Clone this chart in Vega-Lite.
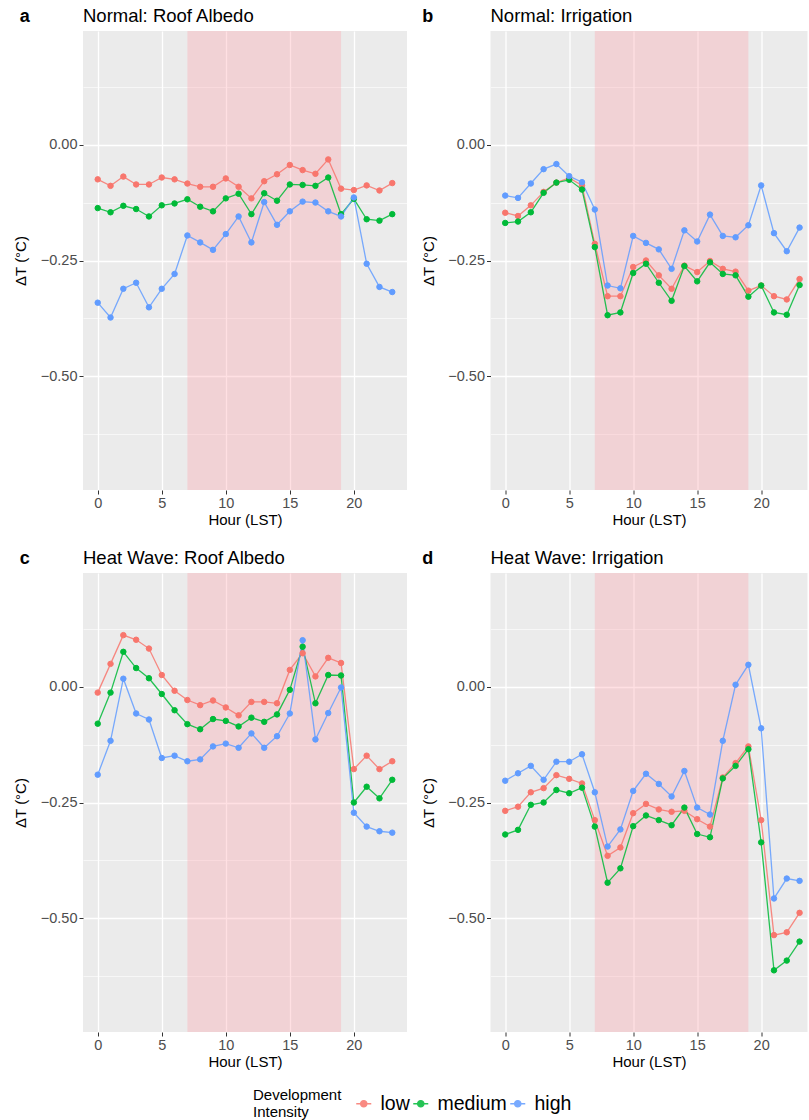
{
  "$schema": "https://vega.github.io/schema/vega-lite/v6.json",
  "background": "white",
  "padding": {"left": 13, "top": 6, "right": 0, "bottom": 0},
  "spacing": 20,
  "datasets": {
    "band": [{"s": 7, "e": 19}],
    "d": [
      {"p":"a","h":0,"i":"low","v":-0.075},{"p":"a","h":1,"i":"low","v":-0.089},{"p":"a","h":2,"i":"low","v":-0.069},{"p":"a","h":3,"i":"low","v":-0.086},{"p":"a","h":4,"i":"low","v":-0.086},{"p":"a","h":5,"i":"low","v":-0.071},{"p":"a","h":6,"i":"low","v":-0.075},{"p":"a","h":7,"i":"low","v":-0.084},{"p":"a","h":8,"i":"low","v":-0.091},{"p":"a","h":9,"i":"low","v":-0.091},{"p":"a","h":10,"i":"low","v":-0.073},{"p":"a","h":11,"i":"low","v":-0.091},{"p":"a","h":12,"i":"low","v":-0.116},{"p":"a","h":13,"i":"low","v":-0.079},{"p":"a","h":14,"i":"low","v":-0.064},{"p":"a","h":15,"i":"low","v":-0.044},{"p":"a","h":16,"i":"low","v":-0.055},{"p":"a","h":17,"i":"low","v":-0.063},{"p":"a","h":18,"i":"low","v":-0.032},{"p":"a","h":19,"i":"low","v":-0.095},{"p":"a","h":20,"i":"low","v":-0.098},{"p":"a","h":21,"i":"low","v":-0.088},{"p":"a","h":22,"i":"low","v":-0.099},{"p":"a","h":23,"i":"low","v":-0.083},
      {"p":"a","h":0,"i":"medium","v":-0.137},{"p":"a","h":1,"i":"medium","v":-0.146},{"p":"a","h":2,"i":"medium","v":-0.132},{"p":"a","h":3,"i":"medium","v":-0.139},{"p":"a","h":4,"i":"medium","v":-0.155},{"p":"a","h":5,"i":"medium","v":-0.131},{"p":"a","h":6,"i":"medium","v":-0.127},{"p":"a","h":7,"i":"medium","v":-0.118},{"p":"a","h":8,"i":"medium","v":-0.134},{"p":"a","h":9,"i":"medium","v":-0.144},{"p":"a","h":10,"i":"medium","v":-0.116},{"p":"a","h":11,"i":"medium","v":-0.106},{"p":"a","h":12,"i":"medium","v":-0.150},{"p":"a","h":13,"i":"medium","v":-0.105},{"p":"a","h":14,"i":"medium","v":-0.121},{"p":"a","h":15,"i":"medium","v":-0.086},{"p":"a","h":16,"i":"medium","v":-0.087},{"p":"a","h":17,"i":"medium","v":-0.089},{"p":"a","h":18,"i":"medium","v":-0.071},{"p":"a","h":19,"i":"medium","v":-0.150},{"p":"a","h":20,"i":"medium","v":-0.117},{"p":"a","h":21,"i":"medium","v":-0.161},{"p":"a","h":22,"i":"medium","v":-0.164},{"p":"a","h":23,"i":"medium","v":-0.150},
      {"p":"a","h":0,"i":"high","v":-0.341},{"p":"a","h":1,"i":"high","v":-0.373},{"p":"a","h":2,"i":"high","v":-0.311},{"p":"a","h":3,"i":"high","v":-0.298},{"p":"a","h":4,"i":"high","v":-0.351},{"p":"a","h":5,"i":"high","v":-0.311},{"p":"a","h":6,"i":"high","v":-0.279},{"p":"a","h":7,"i":"high","v":-0.196},{"p":"a","h":8,"i":"high","v":-0.211},{"p":"a","h":9,"i":"high","v":-0.227},{"p":"a","h":10,"i":"high","v":-0.193},{"p":"a","h":11,"i":"high","v":-0.155},{"p":"a","h":12,"i":"high","v":-0.211},{"p":"a","h":13,"i":"high","v":-0.124},{"p":"a","h":14,"i":"high","v":-0.173},{"p":"a","h":15,"i":"high","v":-0.144},{"p":"a","h":16,"i":"high","v":-0.123},{"p":"a","h":17,"i":"high","v":-0.125},{"p":"a","h":18,"i":"high","v":-0.144},{"p":"a","h":19,"i":"high","v":-0.155},{"p":"a","h":20,"i":"high","v":-0.114},{"p":"a","h":21,"i":"high","v":-0.257},{"p":"a","h":22,"i":"high","v":-0.307},{"p":"a","h":23,"i":"high","v":-0.318},
      {"p":"b","h":0,"i":"low","v":-0.147},{"p":"b","h":1,"i":"low","v":-0.154},{"p":"b","h":2,"i":"low","v":-0.131},{"p":"b","h":3,"i":"low","v":-0.102},{"p":"b","h":4,"i":"low","v":-0.082},{"p":"b","h":5,"i":"low","v":-0.072},{"p":"b","h":6,"i":"low","v":-0.088},{"p":"b","h":7,"i":"low","v":-0.214},{"p":"b","h":8,"i":"low","v":-0.327},{"p":"b","h":9,"i":"low","v":-0.327},{"p":"b","h":10,"i":"low","v":-0.264},{"p":"b","h":11,"i":"low","v":-0.250},{"p":"b","h":12,"i":"low","v":-0.282},{"p":"b","h":13,"i":"low","v":-0.311},{"p":"b","h":14,"i":"low","v":-0.261},{"p":"b","h":15,"i":"low","v":-0.275},{"p":"b","h":16,"i":"low","v":-0.251},{"p":"b","h":17,"i":"low","v":-0.268},{"p":"b","h":18,"i":"low","v":-0.274},{"p":"b","h":19,"i":"low","v":-0.315},{"p":"b","h":20,"i":"low","v":-0.304},{"p":"b","h":21,"i":"low","v":-0.327},{"p":"b","h":22,"i":"low","v":-0.334},{"p":"b","h":23,"i":"low","v":-0.290},
      {"p":"b","h":0,"i":"medium","v":-0.169},{"p":"b","h":1,"i":"medium","v":-0.166},{"p":"b","h":2,"i":"medium","v":-0.146},{"p":"b","h":3,"i":"medium","v":-0.104},{"p":"b","h":4,"i":"medium","v":-0.082},{"p":"b","h":5,"i":"medium","v":-0.076},{"p":"b","h":6,"i":"medium","v":-0.097},{"p":"b","h":7,"i":"medium","v":-0.221},{"p":"b","h":8,"i":"medium","v":-0.368},{"p":"b","h":9,"i":"medium","v":-0.362},{"p":"b","h":10,"i":"medium","v":-0.277},{"p":"b","h":11,"i":"medium","v":-0.257},{"p":"b","h":12,"i":"medium","v":-0.298},{"p":"b","h":13,"i":"medium","v":-0.337},{"p":"b","h":14,"i":"medium","v":-0.262},{"p":"b","h":15,"i":"medium","v":-0.295},{"p":"b","h":16,"i":"medium","v":-0.254},{"p":"b","h":17,"i":"medium","v":-0.279},{"p":"b","h":18,"i":"medium","v":-0.282},{"p":"b","h":19,"i":"medium","v":-0.328},{"p":"b","h":20,"i":"medium","v":-0.304},{"p":"b","h":21,"i":"medium","v":-0.362},{"p":"b","h":22,"i":"medium","v":-0.367},{"p":"b","h":23,"i":"medium","v":-0.303},
      {"p":"b","h":0,"i":"high","v":-0.110},{"p":"b","h":1,"i":"high","v":-0.115},{"p":"b","h":2,"i":"high","v":-0.084},{"p":"b","h":3,"i":"high","v":-0.053},{"p":"b","h":4,"i":"high","v":-0.042},{"p":"b","h":5,"i":"high","v":-0.068},{"p":"b","h":6,"i":"high","v":-0.081},{"p":"b","h":7,"i":"high","v":-0.140},{"p":"b","h":8,"i":"high","v":-0.304},{"p":"b","h":9,"i":"high","v":-0.310},{"p":"b","h":10,"i":"high","v":-0.197},{"p":"b","h":11,"i":"high","v":-0.212},{"p":"b","h":12,"i":"high","v":-0.226},{"p":"b","h":13,"i":"high","v":-0.268},{"p":"b","h":14,"i":"high","v":-0.185},{"p":"b","h":15,"i":"high","v":-0.209},{"p":"b","h":16,"i":"high","v":-0.151},{"p":"b","h":17,"i":"high","v":-0.197},{"p":"b","h":18,"i":"high","v":-0.200},{"p":"b","h":19,"i":"high","v":-0.174},{"p":"b","h":20,"i":"high","v":-0.088},{"p":"b","h":21,"i":"high","v":-0.191},{"p":"b","h":22,"i":"high","v":-0.230},{"p":"b","h":23,"i":"high","v":-0.179},
      {"p":"c","h":0,"i":"low","v":-0.013},{"p":"c","h":1,"i":"low","v":0.049},{"p":"c","h":2,"i":"low","v":0.111},{"p":"c","h":3,"i":"low","v":0.101},{"p":"c","h":4,"i":"low","v":0.082},{"p":"c","h":5,"i":"low","v":0.025},{"p":"c","h":6,"i":"low","v":-0.009},{"p":"c","h":7,"i":"low","v":-0.029},{"p":"c","h":8,"i":"low","v":-0.040},{"p":"c","h":9,"i":"low","v":-0.030},{"p":"c","h":10,"i":"low","v":-0.045},{"p":"c","h":11,"i":"low","v":-0.062},{"p":"c","h":12,"i":"low","v":-0.033},{"p":"c","h":13,"i":"low","v":-0.033},{"p":"c","h":14,"i":"low","v":-0.036},{"p":"c","h":15,"i":"low","v":0.036},{"p":"c","h":16,"i":"low","v":0.072},{"p":"c","h":17,"i":"low","v":0.022},{"p":"c","h":18,"i":"low","v":0.062},{"p":"c","h":19,"i":"low","v":0.051},{"p":"c","h":20,"i":"low","v":-0.178},{"p":"c","h":21,"i":"low","v":-0.149},{"p":"c","h":22,"i":"low","v":-0.178},{"p":"c","h":23,"i":"low","v":-0.161},
      {"p":"c","h":0,"i":"medium","v":-0.080},{"p":"c","h":1,"i":"medium","v":-0.013},{"p":"c","h":2,"i":"medium","v":0.075},{"p":"c","h":3,"i":"medium","v":0.040},{"p":"c","h":4,"i":"medium","v":0.018},{"p":"c","h":5,"i":"medium","v":-0.016},{"p":"c","h":6,"i":"medium","v":-0.051},{"p":"c","h":7,"i":"medium","v":-0.081},{"p":"c","h":8,"i":"medium","v":-0.092},{"p":"c","h":9,"i":"medium","v":-0.070},{"p":"c","h":10,"i":"medium","v":-0.074},{"p":"c","h":11,"i":"medium","v":-0.086},{"p":"c","h":12,"i":"medium","v":-0.067},{"p":"c","h":13,"i":"medium","v":-0.076},{"p":"c","h":14,"i":"medium","v":-0.060},{"p":"c","h":15,"i":"medium","v":-0.007},{"p":"c","h":16,"i":"medium","v":0.086},{"p":"c","h":17,"i":"medium","v":-0.036},{"p":"c","h":18,"i":"medium","v":0.025},{"p":"c","h":19,"i":"medium","v":0.024},{"p":"c","h":20,"i":"medium","v":-0.250},{"p":"c","h":21,"i":"medium","v":-0.216},{"p":"c","h":22,"i":"medium","v":-0.241},{"p":"c","h":23,"i":"medium","v":-0.201},
      {"p":"c","h":0,"i":"high","v":-0.190},{"p":"c","h":1,"i":"high","v":-0.117},{"p":"c","h":2,"i":"high","v":0.017},{"p":"c","h":3,"i":"high","v":-0.058},{"p":"c","h":4,"i":"high","v":-0.071},{"p":"c","h":5,"i":"high","v":-0.154},{"p":"c","h":6,"i":"high","v":-0.149},{"p":"c","h":7,"i":"high","v":-0.161},{"p":"c","h":8,"i":"high","v":-0.157},{"p":"c","h":9,"i":"high","v":-0.129},{"p":"c","h":10,"i":"high","v":-0.123},{"p":"c","h":11,"i":"high","v":-0.132},{"p":"c","h":12,"i":"high","v":-0.101},{"p":"c","h":13,"i":"high","v":-0.132},{"p":"c","h":14,"i":"high","v":-0.107},{"p":"c","h":15,"i":"high","v":-0.058},{"p":"c","h":16,"i":"high","v":0.100},{"p":"c","h":17,"i":"high","v":-0.114},{"p":"c","h":18,"i":"high","v":-0.057},{"p":"c","h":19,"i":"high","v":-0.002},{"p":"c","h":20,"i":"high","v":-0.272},{"p":"c","h":21,"i":"high","v":-0.302},{"p":"c","h":22,"i":"high","v":-0.312},{"p":"c","h":23,"i":"high","v":-0.315},
      {"p":"d","h":0,"i":"low","v":-0.268},{"p":"d","h":1,"i":"low","v":-0.259},{"p":"d","h":2,"i":"low","v":-0.228},{"p":"d","h":3,"i":"low","v":-0.219},{"p":"d","h":4,"i":"low","v":-0.191},{"p":"d","h":5,"i":"low","v":-0.199},{"p":"d","h":6,"i":"low","v":-0.209},{"p":"d","h":7,"i":"low","v":-0.288},{"p":"d","h":8,"i":"low","v":-0.365},{"p":"d","h":9,"i":"low","v":-0.347},{"p":"d","h":10,"i":"low","v":-0.273},{"p":"d","h":11,"i":"low","v":-0.253},{"p":"d","h":12,"i":"low","v":-0.265},{"p":"d","h":13,"i":"low","v":-0.270},{"p":"d","h":14,"i":"low","v":-0.268},{"p":"d","h":15,"i":"low","v":-0.286},{"p":"d","h":16,"i":"low","v":-0.302},{"p":"d","h":17,"i":"low","v":-0.196},{"p":"d","h":18,"i":"low","v":-0.165},{"p":"d","h":19,"i":"low","v":-0.129},{"p":"d","h":20,"i":"low","v":-0.288},{"p":"d","h":21,"i":"low","v":-0.536},{"p":"d","h":22,"i":"low","v":-0.530},{"p":"d","h":23,"i":"low","v":-0.488},
      {"p":"d","h":0,"i":"medium","v":-0.319},{"p":"d","h":1,"i":"medium","v":-0.309},{"p":"d","h":2,"i":"medium","v":-0.255},{"p":"d","h":3,"i":"medium","v":-0.250},{"p":"d","h":4,"i":"medium","v":-0.223},{"p":"d","h":5,"i":"medium","v":-0.230},{"p":"d","h":6,"i":"medium","v":-0.218},{"p":"d","h":7,"i":"medium","v":-0.302},{"p":"d","h":8,"i":"medium","v":-0.423},{"p":"d","h":9,"i":"medium","v":-0.392},{"p":"d","h":10,"i":"medium","v":-0.301},{"p":"d","h":11,"i":"medium","v":-0.278},{"p":"d","h":12,"i":"medium","v":-0.288},{"p":"d","h":13,"i":"medium","v":-0.299},{"p":"d","h":14,"i":"medium","v":-0.261},{"p":"d","h":15,"i":"medium","v":-0.318},{"p":"d","h":16,"i":"medium","v":-0.325},{"p":"d","h":17,"i":"medium","v":-0.198},{"p":"d","h":18,"i":"medium","v":-0.171},{"p":"d","h":19,"i":"medium","v":-0.135},{"p":"d","h":20,"i":"medium","v":-0.336},{"p":"d","h":21,"i":"medium","v":-0.612},{"p":"d","h":22,"i":"medium","v":-0.591},{"p":"d","h":23,"i":"medium","v":-0.550},
      {"p":"d","h":0,"i":"high","v":-0.203},{"p":"d","h":1,"i":"high","v":-0.187},{"p":"d","h":2,"i":"high","v":-0.171},{"p":"d","h":3,"i":"high","v":-0.201},{"p":"d","h":4,"i":"high","v":-0.162},{"p":"d","h":5,"i":"high","v":-0.162},{"p":"d","h":6,"i":"high","v":-0.146},{"p":"d","h":7,"i":"high","v":-0.228},{"p":"d","h":8,"i":"high","v":-0.345},{"p":"d","h":9,"i":"high","v":-0.308},{"p":"d","h":10,"i":"high","v":-0.225},{"p":"d","h":11,"i":"high","v":-0.188},{"p":"d","h":12,"i":"high","v":-0.210},{"p":"d","h":13,"i":"high","v":-0.237},{"p":"d","h":14,"i":"high","v":-0.182},{"p":"d","h":15,"i":"high","v":-0.261},{"p":"d","h":16,"i":"high","v":-0.276},{"p":"d","h":17,"i":"high","v":-0.117},{"p":"d","h":18,"i":"high","v":0.004},{"p":"d","h":19,"i":"high","v":0.047},{"p":"d","h":20,"i":"high","v":-0.090},{"p":"d","h":21,"i":"high","v":-0.457},{"p":"d","h":22,"i":"high","v":-0.414},{"p":"d","h":23,"i":"high","v":-0.419}
    ]
  },
  "vconcat": [
    {
      "hconcat": [
        {
          "title": {"text": "a", "anchor": "start", "frame": "bounds", "offset": -19, "fontWeight": "bold", "fontSize": 18, "dx": 6},
          "vconcat": [
            {
              "title": {"text": "Normal: Roof Albedo", "anchor": "start", "frame": "group", "offset": 6},
              "width": 324, "height": 459,
              "layer": [
                {"data": {"name": "band"}, "mark": {"type": "rect", "fill": "#FFA0AA", "opacity": 0.33},
                 "encoding": {"x": {"field": "s", "type": "quantitative", "scale": {"domain": [-1.15, 24.15], "nice": false, "zero": false}, "axis": {"title": "Hour (LST)", "values": [0, 2.5, 5, 7.5, 10, 12.5, 15, 17.5, 20, 22.5], "format": "d", "labelExpr": "datum.value % 5 === 0 ? datum.label : ''", "gridWidth": {"condition": {"test": "datum.value % 5 === 0", "value": 1.3}, "value": 0.6}, "tickOpacity": {"condition": {"test": "datum.value % 5 === 0", "value": 1}, "value": 0}}}, "x2": {"field": "e"}}},
                {"data": {"name": "d"}, "transform": [{"filter": "datum.p === 'a'"}], "mark": {"type": "line", "strokeWidth": 1.3, "opacity": 0.85},
                 "encoding": {"x": {"field": "h", "type": "quantitative", "scale": {"domain": [-1.15, 24.15], "nice": false, "zero": false}, "axis": {"title": "Hour (LST)", "values": [0, 2.5, 5, 7.5, 10, 12.5, 15, 17.5, 20, 22.5], "format": "d", "labelExpr": "datum.value % 5 === 0 ? datum.label : ''", "gridWidth": {"condition": {"test": "datum.value % 5 === 0", "value": 1.3}, "value": 0.6}, "tickOpacity": {"condition": {"test": "datum.value % 5 === 0", "value": 1}, "value": 0}}},
                   "y": {"field": "v", "type": "quantitative", "scale": {"domain": [-0.745, 0.245], "nice": false, "zero": false}, "axis": {"title": "ΔT (°C)", "values": [0.125, 0, -0.125, -0.25, -0.375, -0.5, -0.625], "format": ".2f", "labelExpr": "datum.value % 0.25 === 0 ? datum.label : ''", "gridWidth": {"condition": {"test": "datum.value % 0.25 === 0", "value": 1.3}, "value": 0.6}, "tickOpacity": {"condition": {"test": "datum.value % 0.25 === 0", "value": 1}, "value": 0}}},
                   "stroke": {"field": "i", "type": "nominal", "scale": {"domain": ["low", "medium", "high"], "range": ["#F8766D", "#00BA38", "#619CFF"]}, "legend": {"title": ["Development", "Intensity"], "orient": "none", "legendX": 170, "legendY": 1063, "direction": "horizontal", "gridAlign": "none"}}}},
                {"data": {"name": "d"}, "transform": [{"filter": "datum.p === 'a'"}], "mark": {"type": "point", "filled": true, "size": 30, "opacity": 1, "strokeWidth": 1},
                 "encoding": {"x": {"field": "h", "type": "quantitative"}, "y": {"field": "v", "type": "quantitative"},
                   "fill": {"field": "i", "type": "nominal", "scale": {"domain": ["low", "medium", "high"], "range": ["#F8766D", "#00BA38", "#619CFF"]}, "legend": {"title": ["Development", "Intensity"], "orient": "none", "legendX": 170, "legendY": 1063, "direction": "horizontal", "gridAlign": "none"}},
                   "stroke": {"field": "i", "type": "nominal"}}}
              ]
            }
          ]
        },
        {
          "title": {"text": "b", "anchor": "start", "frame": "bounds", "offset": -19, "fontWeight": "bold", "fontSize": 18, "dx": 1},
          "vconcat": [
            {
              "title": {"text": "Normal: Irrigation", "anchor": "start", "frame": "group", "offset": 6},
              "width": 317, "height": 459,
              "layer": [
                {"data": {"name": "band"}, "mark": {"type": "rect", "fill": "#FFA0AA", "opacity": 0.33},
                 "encoding": {"x": {"field": "s", "type": "quantitative", "scale": {"domain": [-1.15, 23.62], "nice": false, "zero": false}, "axis": {"title": "Hour (LST)", "values": [0, 2.5, 5, 7.5, 10, 12.5, 15, 17.5, 20, 22.5], "format": "d", "labelExpr": "datum.value % 5 === 0 ? datum.label : ''", "gridWidth": {"condition": {"test": "datum.value % 5 === 0", "value": 1.3}, "value": 0.6}, "tickOpacity": {"condition": {"test": "datum.value % 5 === 0", "value": 1}, "value": 0}}}, "x2": {"field": "e"}}},
                {"data": {"name": "d"}, "transform": [{"filter": "datum.p === 'b'"}], "mark": {"type": "line", "strokeWidth": 1.3, "opacity": 0.85},
                 "encoding": {"x": {"field": "h", "type": "quantitative", "scale": {"domain": [-1.15, 23.62], "nice": false, "zero": false}, "axis": {"title": "Hour (LST)", "values": [0, 2.5, 5, 7.5, 10, 12.5, 15, 17.5, 20, 22.5], "format": "d", "labelExpr": "datum.value % 5 === 0 ? datum.label : ''", "gridWidth": {"condition": {"test": "datum.value % 5 === 0", "value": 1.3}, "value": 0.6}, "tickOpacity": {"condition": {"test": "datum.value % 5 === 0", "value": 1}, "value": 0}}},
                   "y": {"field": "v", "type": "quantitative", "scale": {"domain": [-0.745, 0.245], "nice": false, "zero": false}, "axis": {"title": "ΔT (°C)", "values": [0.125, 0, -0.125, -0.25, -0.375, -0.5, -0.625], "format": ".2f", "labelExpr": "datum.value % 0.25 === 0 ? datum.label : ''", "gridWidth": {"condition": {"test": "datum.value % 0.25 === 0", "value": 1.3}, "value": 0.6}, "tickOpacity": {"condition": {"test": "datum.value % 0.25 === 0", "value": 1}, "value": 0}}},
                   "stroke": {"field": "i", "type": "nominal"}}},
                {"data": {"name": "d"}, "transform": [{"filter": "datum.p === 'b'"}], "mark": {"type": "point", "filled": true, "size": 30, "opacity": 1, "strokeWidth": 1},
                 "encoding": {"x": {"field": "h", "type": "quantitative"}, "y": {"field": "v", "type": "quantitative"},
                   "fill": {"field": "i", "type": "nominal"}, "stroke": {"field": "i", "type": "nominal"}}}
              ]
            }
          ]
        }
      ]
    },
    {
      "hconcat": [
        {
          "title": {"text": "c", "anchor": "start", "frame": "bounds", "offset": -19, "fontWeight": "bold", "fontSize": 18, "dx": 6},
          "vconcat": [
            {
              "title": {"text": "Heat Wave: Roof Albedo", "anchor": "start", "frame": "group", "offset": 6},
              "width": 324, "height": 459,
              "layer": [
                {"data": {"name": "band"}, "mark": {"type": "rect", "fill": "#FFA0AA", "opacity": 0.33},
                 "encoding": {"x": {"field": "s", "type": "quantitative", "scale": {"domain": [-1.15, 24.15], "nice": false, "zero": false}, "axis": {"title": "Hour (LST)", "values": [0, 2.5, 5, 7.5, 10, 12.5, 15, 17.5, 20, 22.5], "format": "d", "labelExpr": "datum.value % 5 === 0 ? datum.label : ''", "gridWidth": {"condition": {"test": "datum.value % 5 === 0", "value": 1.3}, "value": 0.6}, "tickOpacity": {"condition": {"test": "datum.value % 5 === 0", "value": 1}, "value": 0}}}, "x2": {"field": "e"}}},
                {"data": {"name": "d"}, "transform": [{"filter": "datum.p === 'c'"}], "mark": {"type": "line", "strokeWidth": 1.3, "opacity": 0.85},
                 "encoding": {"x": {"field": "h", "type": "quantitative", "scale": {"domain": [-1.15, 24.15], "nice": false, "zero": false}, "axis": {"title": "Hour (LST)", "values": [0, 2.5, 5, 7.5, 10, 12.5, 15, 17.5, 20, 22.5], "format": "d", "labelExpr": "datum.value % 5 === 0 ? datum.label : ''", "gridWidth": {"condition": {"test": "datum.value % 5 === 0", "value": 1.3}, "value": 0.6}, "tickOpacity": {"condition": {"test": "datum.value % 5 === 0", "value": 1}, "value": 0}}},
                   "y": {"field": "v", "type": "quantitative", "scale": {"domain": [-0.745, 0.245], "nice": false, "zero": false}, "axis": {"title": "ΔT (°C)", "values": [0.125, 0, -0.125, -0.25, -0.375, -0.5, -0.625], "format": ".2f", "labelExpr": "datum.value % 0.25 === 0 ? datum.label : ''", "gridWidth": {"condition": {"test": "datum.value % 0.25 === 0", "value": 1.3}, "value": 0.6}, "tickOpacity": {"condition": {"test": "datum.value % 0.25 === 0", "value": 1}, "value": 0}}},
                   "stroke": {"field": "i", "type": "nominal"}}},
                {"data": {"name": "d"}, "transform": [{"filter": "datum.p === 'c'"}], "mark": {"type": "point", "filled": true, "size": 30, "opacity": 1, "strokeWidth": 1},
                 "encoding": {"x": {"field": "h", "type": "quantitative"}, "y": {"field": "v", "type": "quantitative"},
                   "fill": {"field": "i", "type": "nominal"}, "stroke": {"field": "i", "type": "nominal"}}}
              ]
            }
          ]
        },
        {
          "title": {"text": "d", "anchor": "start", "frame": "bounds", "offset": -19, "fontWeight": "bold", "fontSize": 18, "dx": 1},
          "vconcat": [
            {
              "title": {"text": "Heat Wave: Irrigation", "anchor": "start", "frame": "group", "offset": 6},
              "width": 317, "height": 459,
              "layer": [
                {"data": {"name": "band"}, "mark": {"type": "rect", "fill": "#FFA0AA", "opacity": 0.33},
                 "encoding": {"x": {"field": "s", "type": "quantitative", "scale": {"domain": [-1.15, 23.62], "nice": false, "zero": false}, "axis": {"title": "Hour (LST)", "values": [0, 2.5, 5, 7.5, 10, 12.5, 15, 17.5, 20, 22.5], "format": "d", "labelExpr": "datum.value % 5 === 0 ? datum.label : ''", "gridWidth": {"condition": {"test": "datum.value % 5 === 0", "value": 1.3}, "value": 0.6}, "tickOpacity": {"condition": {"test": "datum.value % 5 === 0", "value": 1}, "value": 0}}}, "x2": {"field": "e"}}},
                {"data": {"name": "d"}, "transform": [{"filter": "datum.p === 'd'"}], "mark": {"type": "line", "strokeWidth": 1.3, "opacity": 0.85},
                 "encoding": {"x": {"field": "h", "type": "quantitative", "scale": {"domain": [-1.15, 23.62], "nice": false, "zero": false}, "axis": {"title": "Hour (LST)", "values": [0, 2.5, 5, 7.5, 10, 12.5, 15, 17.5, 20, 22.5], "format": "d", "labelExpr": "datum.value % 5 === 0 ? datum.label : ''", "gridWidth": {"condition": {"test": "datum.value % 5 === 0", "value": 1.3}, "value": 0.6}, "tickOpacity": {"condition": {"test": "datum.value % 5 === 0", "value": 1}, "value": 0}}},
                   "y": {"field": "v", "type": "quantitative", "scale": {"domain": [-0.745, 0.245], "nice": false, "zero": false}, "axis": {"title": "ΔT (°C)", "values": [0.125, 0, -0.125, -0.25, -0.375, -0.5, -0.625], "format": ".2f", "labelExpr": "datum.value % 0.25 === 0 ? datum.label : ''", "gridWidth": {"condition": {"test": "datum.value % 0.25 === 0", "value": 1.3}, "value": 0.6}, "tickOpacity": {"condition": {"test": "datum.value % 0.25 === 0", "value": 1}, "value": 0}}},
                   "stroke": {"field": "i", "type": "nominal"}}},
                {"data": {"name": "d"}, "transform": [{"filter": "datum.p === 'd'"}], "mark": {"type": "point", "filled": true, "size": 30, "opacity": 1, "strokeWidth": 1},
                 "encoding": {"x": {"field": "h", "type": "quantitative"}, "y": {"field": "v", "type": "quantitative"},
                   "fill": {"field": "i", "type": "nominal"}, "stroke": {"field": "i", "type": "nominal"}}}
              ]
            }
          ]
        }
      ]
    }
  ],
  "config": {
    "font": "Liberation Sans",
    "view": {"fill": "#EBEBEB", "stroke": null},
    "concat": {"spacing": 13.5},
    "axis": {"domain": false, "grid": true, "gridColor": "#FFFFFF", "labelColor": "#4D4D4D", "labelFontSize": 14.5, "labelFont": "Liberation Sans", "titleFont": "Liberation Sans", "titleFontSize": 15, "titleColor": "#000000", "titleFontWeight": "normal", "tickColor": "#333333", "tickSize": 4, "tickWidth": 1, "labelPadding": 2, "titlePadding": 3},
    "axisY": {"titlePadding": 11.5},
    "title": {"fontWeight": "normal", "fontSize": 18.5, "color": "#000000", "font": "Liberation Sans"},
    "legend": {"titleOrient": "left", "titleFontSize": 15, "titleFontWeight": "normal", "titleColor": "#000000", "titleFont": "Liberation Sans", "labelFont": "Liberation Sans", "labelFontSize": 19.5, "labelColor": "#000000", "symbolType": "M-1,0H1M0.42,0A0.42,0.42,0,1,1,-0.42,0A0.42,0.42,0,1,1,0.42,0Z", "symbolSize": 225, "symbolStrokeWidth": 1.3, "labelOffset": 7, "columnPadding": 0, "titlePadding": 12, "titleLineHeight": 17}
  }
}
